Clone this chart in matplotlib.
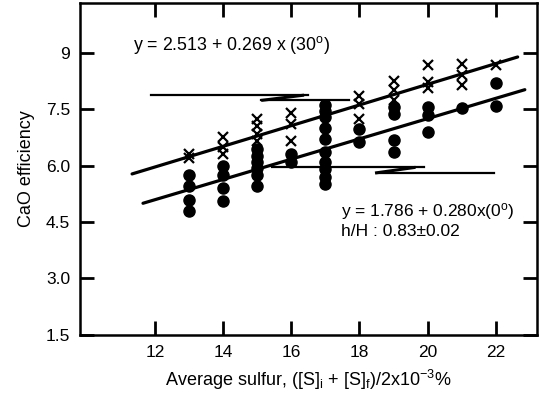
import numpy as np
import matplotlib
matplotlib.use('Agg')
import matplotlib.pyplot as plt

plt.rcParams['font.family'] = ['Liberation Sans', 'DejaVu Sans']
plt.rcParams['mathtext.fontset'] = 'custom'
plt.rcParams['mathtext.rm'] = 'Liberation Sans'
plt.rcParams['mathtext.it'] = 'Liberation Sans'
plt.rcParams['mathtext.default'] = 'regular'

# 30 deg data (crosses)
x30 = [13, 13, 14, 14, 14, 15, 15, 15, 15, 16, 16, 16,
       18, 18, 18, 19, 19, 19, 20, 20, 20, 21, 21, 21, 22]
y30 = [6.3, 6.2, 6.75, 6.5, 6.3, 7.25, 7.05, 6.85, 6.65, 7.4, 7.1, 6.65,
       7.85, 7.65, 7.25, 8.25, 8.0, 7.75, 8.68, 8.23, 8.07, 8.7, 8.4, 8.15, 8.68]

# 0 deg data (filled circles)
x0 = [13, 13, 13, 13, 14, 14, 14, 14, 15, 15, 15, 15, 15, 15, 16, 16,
      17, 17, 17, 17, 17, 17, 17, 17, 17, 17,
      18, 18, 19, 19, 19, 19, 20, 20, 20, 21, 22, 22]
y0 = [5.75, 5.45, 5.1, 4.8, 6.0, 5.75, 5.4, 5.05, 6.45, 6.25, 6.1, 5.95, 5.75, 5.45, 6.3, 6.1,
      7.6, 7.45, 7.3, 7.0, 6.7, 6.35, 6.1, 5.9, 5.7, 5.5,
      6.98, 6.63, 7.55, 7.38, 6.69, 6.37, 7.56, 7.35, 6.9, 7.54, 8.2, 7.58]

# fitted lines (end points)
fit30_x = [11.33, 22.64]
fit30_y = [5.78, 8.89]
fit0_x = [11.65, 22.85]
fit0_y = [5.0, 8.02]

# horizontal bars (x start, x end, y)
bars = [(11.88, 16.5, 7.88), (15.1, 17.7, 7.74),
        (15.42, 19.9, 5.97), (18.5, 21.94, 5.81)]
# slanted connectors
links = [((15.16, 16.33), (7.74, 7.87)), ((18.5, 19.6), (5.81, 5.95))]

yticks = [1.5, 3.0, 4.5, 6.0, 7.5, 9]
ytick_labels = ['1.5', '3.0', '4.5', '6.0', '7.5', '9']
xticks = [12, 14, 16, 18, 20, 22]

fig = plt.figure(figsize=(5.4, 4.03), dpi=100)
ax = fig.add_axes([0.148, 0.169, 0.846, 0.824])

ax.plot(fit30_x, fit30_y, color='black', lw=2.3, solid_capstyle='round')
ax.plot(fit0_x, fit0_y, color='black', lw=2.3, solid_capstyle='round')
for x1, x2, yb in bars:
    ax.plot([x1, x2], [yb, yb], color='black', lw=1.6)
for lx, ly in links:
    ax.plot(lx, ly, color='black', lw=2.2)

ax.plot(x30, y30, linestyle='none', marker='x', ms=7.5, mew=1.6, color='black')
ax.plot(x0, y0, linestyle='none', marker='o', ms=8, color='black')

ax.text(11.36, 9.2, r'y = 2.513 + 0.269 x (30$^{o}$)', fontsize=12.8, va='center', ha='left')
ax.text(17.45, 4.77, r'y = 1.786 + 0.280x(0$^{o}$)', fontsize=12.5, va='center', ha='left')
ax.text(17.45, 4.24, 'h/H : 0.83±0.02', fontsize=12.5, va='center', ha='left')

ax.set_xlim(9.8, 23.2)
ax.set_ylim(1.5, 10.33)
ax.set_xticks(xticks)
ax.set_yticks(yticks)
ax.set_yticklabels(ytick_labels)
ax.tick_params(direction='in', length=10, width=2, labelsize=12.5, pad=7,
               top=True, right=True)
for s in ax.spines.values():
    s.set_linewidth(1.8)

ax.set_xlabel(r'Average sulfur, ([S]$_{i}$ + [S]$_{f}$)/2x10$^{-3}$%', fontsize=13, labelpad=6)
ax.set_ylabel('CaO efficiency', fontsize=13, labelpad=8)

fig.savefig('out.png', dpi=100)
